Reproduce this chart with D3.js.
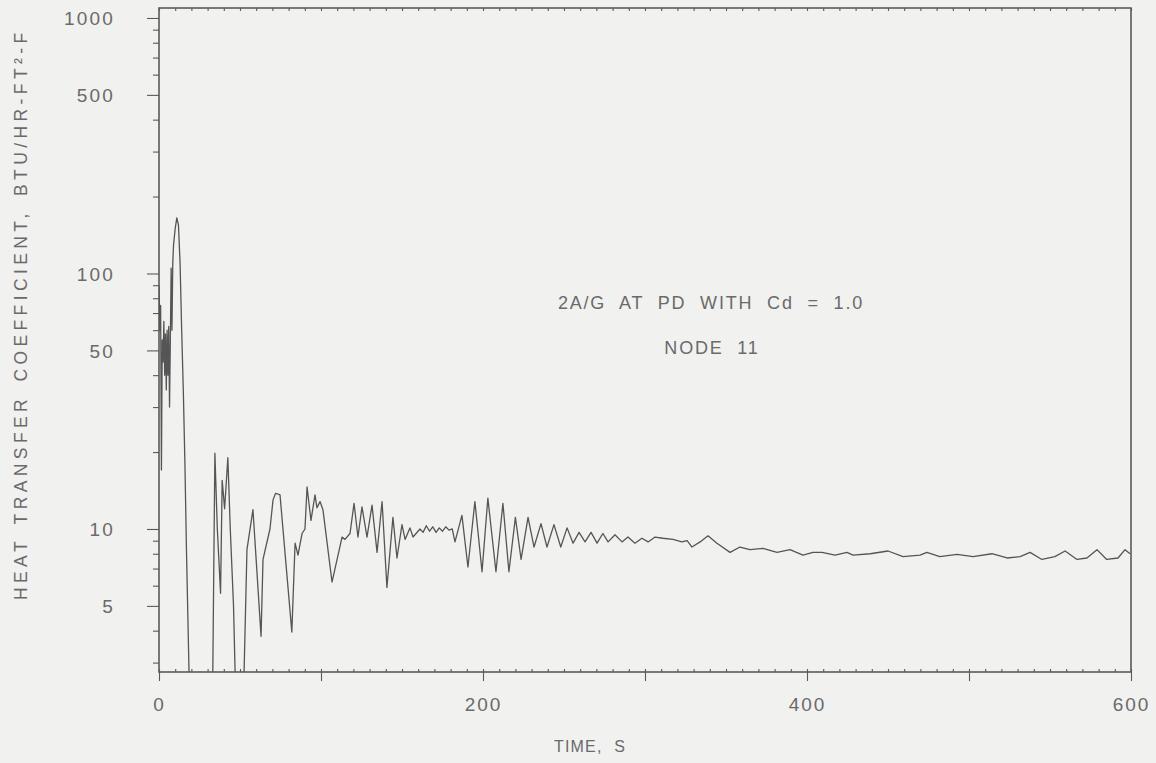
<!DOCTYPE html>
<html><head><meta charset="utf-8">
<script src="https://cdn.jsdelivr.net/npm/d3@7"></script>
<style>
body{margin:0;background:#f1f1f0;}
svg{display:block;}
text{font-family:"Liberation Sans",Arial,sans-serif;fill:#6a6a6a;}
</style>
</head><body>
<svg id="c" width="1156" height="763"></svg>
<script>
// Time, s
const time = [
  0,0.5,1,1.5,2,2.5,3,3.5,4,4.5,5,5.5,6,6.5,7,7.5,8,8.5,9,10,11,12,13,14,15,16,17,18,19,
  33,34.5,36,38,39,40.5,42.5,44,46,47.5,
  52,54.3,58,63,64.2,68.5,70.4,72,74.7,82,
  84,85.8,88.3,90.1,91.4,93.8,96.3,97.5,99.4,101.2,106.8,113,114.8,117.9,120.4,122.8,125.3,128.4,131.5,134.6,137.7,140.7,144.4,146.9,150,151.9,154.9,156.8,161.1,
  163,165,167,169,171,173,175,177,179,181,
  182.7,187,190.7,195,199.4,203,208,212.3,216,220,223.5,227.8,231.5,235.8,239.5,243.8,248,251.9,255.6,259.3,263,266.7,270.4,274,277.2,281.5,285.8,289.5,293.8,298.1,301.9,306.2,311.1,317.3,322.8,326,329,334,338.9,344.4,352.5,358.6,364.8,372.8,381.5,389.5,397.5,403.7,409.3,417.3,424.7,428.4,439,450,459.3,469.8,474,482,492.6,502.5,514.2,523.5,531.5,537.7,545,553,559.3,566.7,572.8,579,585,592,596.3,599.4
];
// Heat transfer coefficient, BTU/HR-FT2-F (values below the axis run off the plot)
const htc = [
  90,60,75,17,55,45,65,40,58,35,60,40,62,30,55,105,60,110,130,150,165,155,110,60,35,18,8,4,2,
  2,19.8,10,5.6,15.5,12,19,10,5,2,
  2,8.3,11.9,3.8,7.6,10,13,13.8,13.6,3.95,
  8.8,7.9,9.6,10,14.6,10.8,13.6,12.1,12.8,11.9,6.2,9.3,9.1,9.6,12.6,9.3,12.2,9.3,12.4,8.1,12.8,5.9,11.1,7.7,10.4,9.1,10.1,9.3,10,
  9.7,10.3,9.8,10.2,9.7,10.1,9.8,10.2,9.9,10,
  8.9,11.3,7.1,12.8,6.8,13.2,6.8,12.6,6.8,11.1,7.6,11.1,8.5,10.5,8.5,10.4,8.5,10.1,8.8,9.7,8.9,9.7,8.8,9.6,8.9,9.5,8.9,9.3,8.8,9.2,8.9,9.3,9.2,9.1,8.9,9.0,8.5,8.9,9.4,8.8,8.1,8.5,8.3,8.4,8.1,8.3,7.9,8.1,8.1,7.9,8.1,7.9,8.0,8.2,7.8,7.9,8.1,7.8,7.95,7.8,8.0,7.7,7.8,8.1,7.6,7.8,8.2,7.6,7.7,8.3,7.6,7.7,8.3,8.0
];
const yMajorTicks = [5,10,50,100,500,1000];
const yMinorTicks = [3,4,6,7,8,9,20,30,40,60,70,80,90,200,300,400,600,700,800,900];
const xMajorTicks = [0,100,200,300,400,500,600];
const xLabelTicks = [0,200,400,600];
const xMinorTicks = d3.range(0,601,10);
const notes = ["2A/G AT PD WITH Cd = 1.0", "NODE 11"];
const xTitle = "TIME, S";
const yTitle = "HEAT TRANSFER COEFFICIENT, BTU/HR-FT²-F";

const svg = d3.select("#c");
const L = 159, R = 1131, T = 8, B = 672;
const x = d3.scaleLinear().domain([0,600]).range([L,R]);
const y = d3.scaleLog().domain([2.756,1094]).range([B,T]);
const ink = "#5a5a5a";

svg.append("defs").append("clipPath").attr("id","clip")
  .append("rect").attr("x",L).attr("y",T).attr("width",R-L).attr("height",B-T);

// frame
svg.append("rect").attr("x",L).attr("y",T).attr("width",R-L).attr("height",B-T)
  .attr("fill","none").attr("stroke",ink).attr("stroke-width",1.6);

function styleAxis(g){
  g.select(".domain").remove();
  g.selectAll("line").attr("stroke",ink).attr("stroke-width",1.1);
  g.selectAll("text").attr("fill","#6a6a6a");
}

// y axis major
svg.append("g").attr("transform",`translate(${L},0)`)
  .call(d3.axisLeft(y).tickValues(yMajorTicks).tickSize(12).tickPadding(32).tickFormat(d3.format("d")))
  .call(styleAxis)
  .call(g=>g.selectAll("text").attr("font-size",19).attr("letter-spacing",2.2).attr("dy","0.36em"));
// y axis minor
svg.append("g").attr("transform",`translate(${L},0)`)
  .call(d3.axisLeft(y).tickValues(yMinorTicks).tickSize(6).tickFormat(""))
  .call(styleAxis);

// x axis major
svg.append("g").attr("transform",`translate(0,${B})`)
  .call(d3.axisBottom(x).tickValues(xMajorTicks).tickSize(9).tickPadding(17)
    .tickFormat(d=>xLabelTicks.includes(d)?d:""))
  .call(styleAxis)
  .call(g=>g.selectAll("text").attr("font-size",19).attr("letter-spacing",2));
// x axis minor (inside)
svg.append("g").attr("transform",`translate(0,${B})`)
  .call(d3.axisBottom(x).tickValues(xMinorTicks).tickSize(-3).tickFormat(""))
  .call(styleAxis);
svg.append("g").attr("transform",`translate(0,${T})`)
  .call(d3.axisTop(x).tickValues(xMinorTicks).tickSize(-3).tickFormat(""))
  .call(styleAxis);

// data line
const data = time.map((t,i)=>({t, v:htc[i]}));
svg.append("path").datum(data)
  .attr("clip-path","url(#clip)")
  .attr("fill","none").attr("stroke","#555").attr("stroke-width",1.3)
  .attr("stroke-linejoin","round")
  .attr("d", d3.line().x(d=>x(d.t)).y(d=>y(Math.max(d.v,1))));

// notes
svg.append("text").attr("x",711).attr("y",309).attr("text-anchor","middle")
  .attr("font-size",18).attr("letter-spacing",1.8).style("word-spacing","7px").text(notes[0]);
svg.append("text").attr("x",712).attr("y",354).attr("text-anchor","middle")
  .attr("font-size",18).attr("letter-spacing",1.8).style("word-spacing","7px").text(notes[1]);

// axis titles
svg.append("text").attr("x",590).attr("y",752).attr("text-anchor","middle")
  .attr("font-size",16).attr("letter-spacing",1.2).style("word-spacing","6px").text(xTitle);
svg.append("text").attr("transform","translate(27,600) rotate(-90)").attr("text-anchor","start")
  .attr("font-size",17.5).attr("letter-spacing",4.4).style("word-spacing","4px").text(yTitle);
</script>
</body></html>
